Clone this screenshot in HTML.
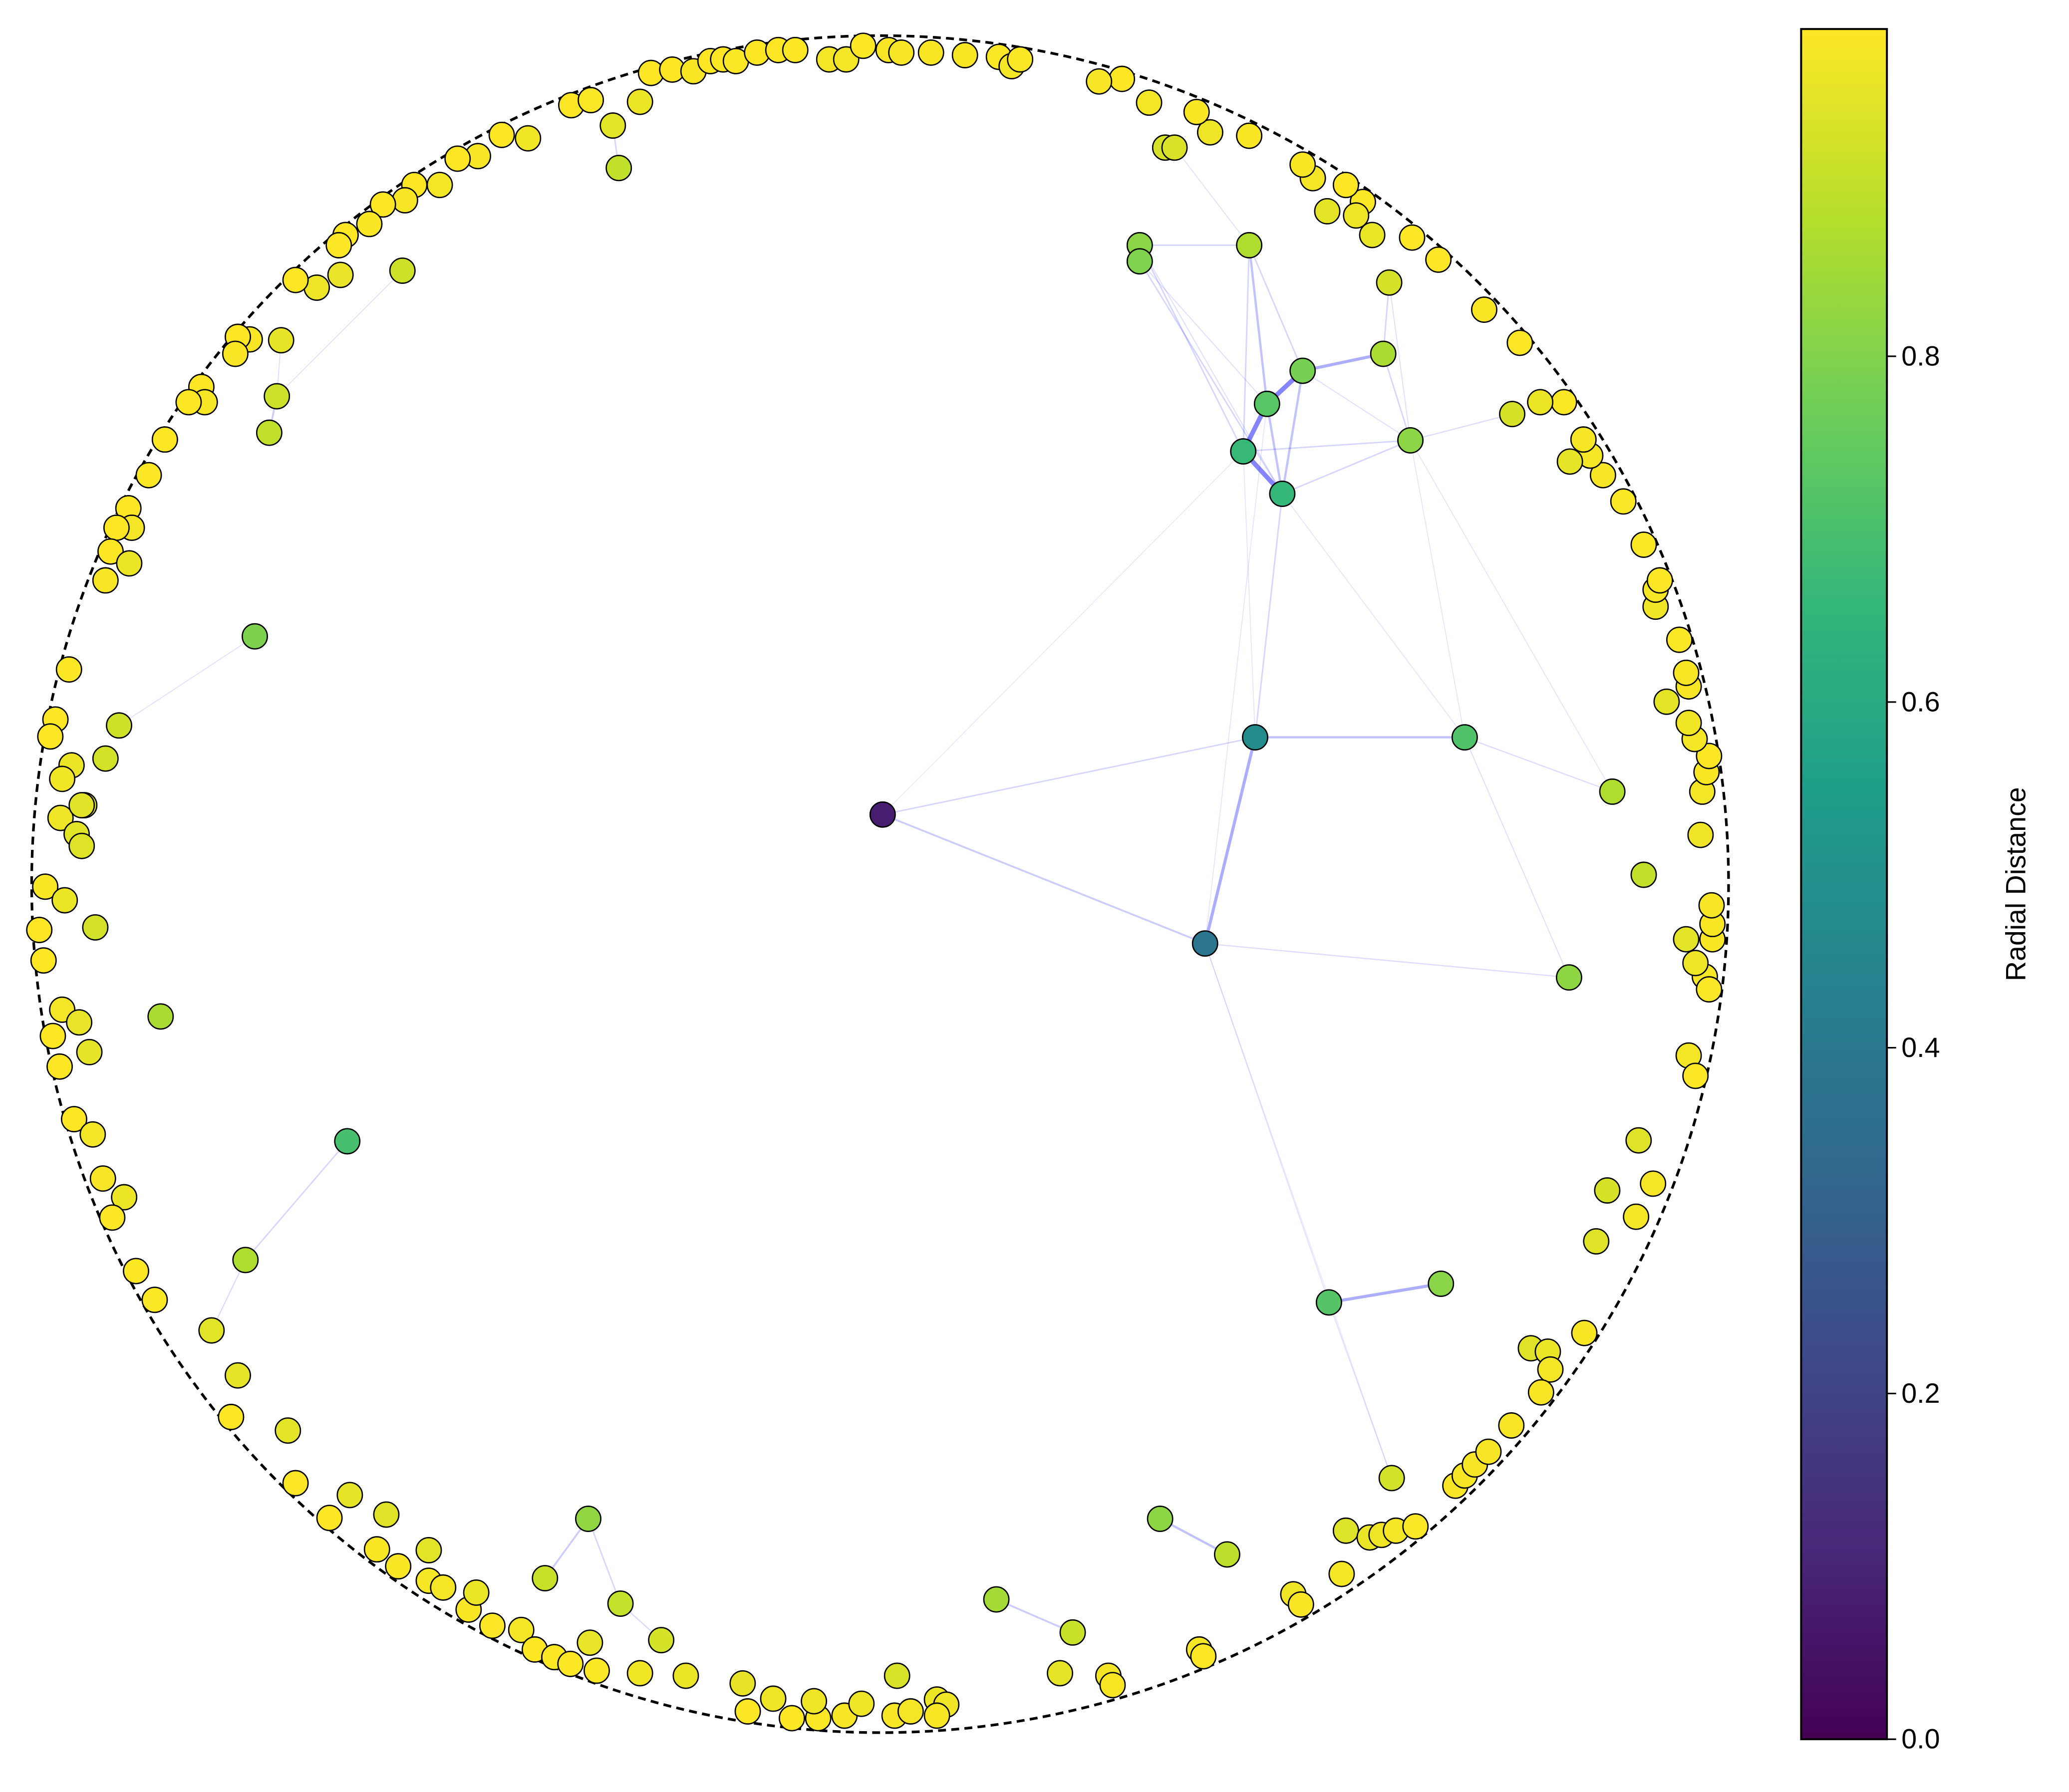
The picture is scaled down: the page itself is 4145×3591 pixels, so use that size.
<!DOCTYPE html>
<html><head><meta charset="utf-8"><style>
html,body{margin:0;padding:0;background:#fff;}
svg{display:block;}
</style></head><body>
<svg id="chart" xmlns="http://www.w3.org/2000/svg" width="4145" height="3591" viewBox="0 0 1568 1358" preserveAspectRatio="none">
<defs>
<linearGradient id="viridis" x1="0" y1="1" x2="0" y2="0">
<stop offset="0" stop-color="rgb(68,1,84)"/><stop offset="0.111" stop-color="rgb(72,40,120)"/><stop offset="0.222" stop-color="rgb(62,73,137)"/><stop offset="0.333" stop-color="rgb(49,104,142)"/><stop offset="0.444" stop-color="rgb(38,130,142)"/><stop offset="0.556" stop-color="rgb(31,158,137)"/><stop offset="0.667" stop-color="rgb(53,183,121)"/><stop offset="0.778" stop-color="rgb(110,206,88)"/><stop offset="0.889" stop-color="rgb(181,222,43)"/><stop offset="1" stop-color="rgb(253,231,37)"/>
</linearGradient>
</defs>
<rect width="1568" height="1358" fill="#fff"/>
<g id="edges"></g>
<circle cx="667" cy="670" r="643" fill="none" stroke="#000" stroke-width="2" stroke-dasharray="6,4"/>
<g id="nodes"></g>
<g id="colorbar">
<rect x="1365" y="22" width="65" height="1296" fill="url(#viridis)" stroke="#000" stroke-width="1.5"/>
</g>
<text x="1535" y="670" transform="rotate(-90 1535 670)" text-anchor="middle" font-family="Liberation Sans, sans-serif" font-size="21" fill="#000">Radial Distance</text>
</svg>
<script>
// interior nodes (data coords in unit disk)
const innerX = [0.003,0.442,0.383,0.689,0.863,0.900,0.812,0.428,0.456,0.498,0.474,0.593,0.625,0.306,0.306,0.435,0.600,-0.737,-0.720,-0.711,-0.563,-0.308,-0.315,-0.848,-0.628,-0.748,-0.788,-0.757,-0.765,-0.698,0.529,0.661,-0.344,-0.395,-0.306,-0.258,0.137,0.227,0.330,0.409,0.603,0.745,0.347,-0.706,-0.925,-0.897,-0.913,-0.941,0.894];
const innerY = [0.082,0.173,-0.070,0.173,0.109,0.011,-0.110,0.510,0.566,0.605,0.460,0.625,0.523,0.753,0.734,0.753,0.709,0.292,0.532,0.575,0.723,0.844,0.894,-0.156,-0.303,-0.443,-0.526,-0.579,-0.628,-0.644,-0.493,-0.471,-0.748,-0.818,-0.848,-0.891,-0.843,-0.882,-0.748,-0.790,-0.700,0.554,0.868,0.641,-0.051,0.187,0.148,0.093,-0.302];
// boundary nodes
const outerX = [-0.27,-0.245,-0.22,-0.2,-0.185,-0.17,-0.145,-0.12,-0.1,-0.06,-0.04,-0.02,0.01,0.025,0.06,0.10,0.14,0.155,0.165,
-0.283,-0.364,-0.341,-0.415,-0.446,-0.474,-0.498,-0.519,-0.549,-0.56,-0.586,-0.602,-0.63,-0.638,-0.664,-0.689,-0.636,-0.743,-0.757,-0.76,-0.8,-0.796,-0.815,-0.843,-0.862,-0.886,-0.882,-0.9,-0.907,-0.913,-0.885,-0.956,-0.972,-0.978,-0.953,-0.964,-0.938,-0.966,-0.947,-0.941,-0.984,-0.961,-0.991,-0.986,-0.964,-0.944,-0.975,-0.932,-0.967,-0.95,-0.928,-0.916,-0.891,-0.905,-0.877,-0.855,
-0.689,-0.625,-0.649,-0.582,-0.593,-0.568,-0.532,-0.532,-0.515,-0.485,-0.476,-0.457,-0.423,-0.407,-0.384,-0.365,-0.342,-0.334,-0.283,-0.229,-0.162,-0.156,-0.126,-0.104,-0.073,-0.078,-0.042,-0.022,0.02,0.017,0.036,0.067,0.078,0.067,
0.212,0.269,0.274,0.376,0.381,0.487,0.496,0.544,0.549,0.577,0.591,0.608,0.631,0.678,0.689,0.701,0.717,0.744,0.767,0.787,0.79,0.779,0.83,
0.844,0.857,0.891,0.911,0.953,0.961,0.972,0.977,0.961,0.95,0.981,0.981,0.98,0.967,0.969,0.974,0.977,0.96,0.953,0.927,0.953,0.95,0.942,0.914,0.914,0.919,0.9,0.876,0.852,0.837,0.813,0.829,0.806,0.778,0.754,0.712,0.658,0.627,0.58,0.569,0.549,0.561,0.527,0.51,0.498,0.435,0.389,0.373,0.336,0.317,0.285,0.258];
const outerY = [0.956,0.96,0.958,0.97,0.972,0.97,0.98,0.983,0.983,0.972,0.972,0.988,0.983,0.98,0.98,0.977,0.975,0.964,0.972,
0.922,0.918,0.924,0.879,0.883,0.858,0.855,0.824,0.824,0.806,0.801,0.778,0.765,0.753,0.703,0.712,0.718,0.642,0.645,0.625,0.586,0.568,0.568,0.524,0.482,0.443,0.42,0.42,0.392,0.358,0.378,0.253,0.194,0.174,0.14,0.124,0.093,0.078,0.059,0.045,-0.003,-0.019,-0.054,-0.09,-0.148,-0.163,-0.179,-0.198,-0.215,-0.277,-0.295,-0.347,-0.369,-0.393,-0.456,-0.49,
-0.706,-0.72,-0.747,-0.743,-0.784,-0.804,-0.785,-0.821,-0.829,-0.855,-0.835,-0.874,-0.879,-0.902,-0.911,-0.919,-0.894,-0.927,-0.93,-0.933,-0.942,-0.975,-0.96,-0.983,-0.983,-0.963,-0.98,-0.966,-0.933,-0.98,-0.975,-0.961,-0.967,-0.98,
-0.93,-0.933,-0.944,-0.902,-0.91,-0.837,-0.849,-0.813,-0.762,-0.77,-0.767,-0.762,-0.757,-0.709,-0.697,-0.684,-0.669,-0.638,-0.547,-0.551,-0.572,-0.599,-0.529,
-0.421,-0.361,-0.392,-0.353,-0.202,-0.226,-0.109,-0.124,-0.093,-0.065,-0.065,-0.047,-0.025,0.058,0.109,0.132,0.151,0.171,0.19,0.215,0.233,0.249,0.288,0.327,0.347,0.358,0.4,0.451,0.482,0.505,0.498,0.524,0.568,0.568,0.638,0.677,0.736,0.762,0.765,0.804,0.824,0.788,0.793,0.832,0.848,0.882,0.886,0.91,0.868,0.921,0.949,0.946];
// edges between interior nodes
const edgeFrom = [0,0,1,1,1,2,2,3,3,30,30,7,8,7,9,8,9,11,7,10,13,13,15,15,15,11,12,14,24,25,32,32,34,36,38,17,18,13,20,43,22,7,8,0,12,16,13,14,10,9,42,12,2];
const edgeTo   = [1,2,2,3,10,6,30,4,6,31,40,8,9,10,11,10,10,12,12,12,15,7,8,9,7,16,41,10,25,26,33,34,35,37,39,45,19,14,19,19,21,1,2,7,3,12,10,8,3,12,15,4,40];
const edgeWeight=[1,1.5,3,2,1,0.7,0.4,0.7,0.5,3,0.5,5,5,5,3,2,2,1,1,1,1,1,2,1,1,1,0.7,1,1,0.7,1.5,1,0.8,1.5,2,0.4,1.5,2,0.4,0.5,1,0.3,0.3,0.2,0.3,0.5,0.5,0.5,0.3,0.5,0.4,0.3,0.2];
const cbTicks = [0.0,0.2,0.4,0.6,0.8];
const cbTickLabels = ["0.0","0.2","0.4","0.6","0.8"];

const CX=667, CY=670, R=643, CB_Y0=1318, CB_PX_PER_UNIT=1310;
const sx = v => CX + v*R;
const sy = v => CY - v*R;
const cbY = v => CB_Y0 - v*CB_PX_PER_UNIT;
const NS='http://www.w3.org/2000/svg';
const vir=[[68,1,84],[72,40,120],[62,73,137],[49,104,142],[38,130,142],[31,158,137],[53,183,121],[110,206,88],[181,222,43],[253,231,37]];
function viridis(t){t=Math.max(0,Math.min(1,t));const f=t*(vir.length-1);const i=Math.min(vir.length-2,Math.floor(f));const u=f-i;const c=vir[i].map((a,k)=>Math.round(a+(vir[i+1][k]-a)*u));return `rgb(${c[0]},${c[1]},${c[2]})`;}
const eg=document.getElementById('edges');
for(let i=0;i<edgeFrom.length;i++){
  const a=edgeFrom[i], b=edgeTo[i], w=edgeWeight[i];
  const l=document.createElementNS(NS,'line');
  l.setAttribute('x1',sx(innerX[a]));l.setAttribute('y1',sy(innerY[a]));
  l.setAttribute('x2',sx(innerX[b]));l.setAttribute('y2',sy(innerY[b]));
  l.setAttribute('stroke','rgb(0,0,255)');
  l.setAttribute('stroke-opacity',Math.min(0.6,0.08+0.08*w));
  l.setAttribute('stroke-width',0.5+0.6*w);
  
  
  eg.appendChild(l);
}
const ng=document.getElementById('nodes');
function drawNode(x,y,nm){
  const r=Math.sqrt(x*x+y*y);
  const c=document.createElementNS(NS,'circle');
  c.setAttribute('cx',sx(x));c.setAttribute('cy',sy(y));c.setAttribute('r',9.5);
  c.setAttribute('fill',viridis(r/0.99));
  c.setAttribute('stroke','#000');c.setAttribute('stroke-width',1);
  
  
  ng.appendChild(c);
}
for(let i=0;i<outerX.length;i++) drawNode(outerX[i],outerY[i],'boundary-node');
for(let i=0;i<innerX.length;i++) drawNode(innerX[i],innerY[i],'interior-node');
const cb=document.getElementById('colorbar');
for(let i=0;i<cbTicks.length;i++){
  const y=cbY(cbTicks[i]);
  const t=document.createElementNS(NS,'line');
  t.setAttribute('x1',1430);t.setAttribute('x2',1437);t.setAttribute('y1',y);t.setAttribute('y2',y);
  t.setAttribute('stroke','#000');t.setAttribute('stroke-width',1.2);
  
  
  cb.appendChild(t);
  const tx=document.createElementNS(NS,'text');
  tx.setAttribute('x',1441);tx.setAttribute('y',y+7);
  tx.setAttribute('font-family','Liberation Sans, sans-serif');tx.setAttribute('font-size','21');
  tx.textContent=cbTickLabels[i];
  
  
  cb.appendChild(tx);
}
</script>
</body></html>
